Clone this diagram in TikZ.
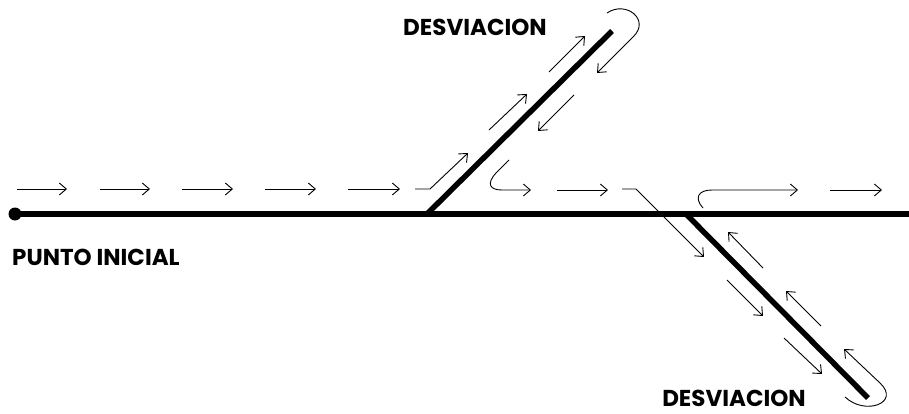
\documentclass[tikz,border=0pt]{standalone}
\usepackage{fontspec}
\setmainfont{Poppins}
\usetikzlibrary{arrows.meta}
\begin{document}
\begin{tikzpicture}[x=1pt,y=-1pt,
  road/.style={line width=5.5pt},
  flow/.style={line width=0.9pt,-{Straight Barb[length=7pt,width=12pt]}},
  lbl/.style={font=\bfseries\fontsize{23}{25}\selectfont, inner sep=0pt}]
\useasboundingbox (0,0) rectangle (909,414);
% main road and branches
\coordinate (start) at (15,214);
\coordinate (roadend) at (909,214);
\coordinate (b1) at (427,214);
\coordinate (t1) at (612,31);
\coordinate (b2) at (686,214);
\coordinate (t2) at (868,398);
\draw[road] (start) -- (roadend);
\fill (start) circle (6.5);
\draw[road] (b1) -- (t1);
\draw[road] (b2) -- (t2);
% top row arrows
\foreach \xa/\xb in {17/67,100/150,182/233,265/316,348/400}
  \draw[flow] (\xa,189) -- (\xb,189);
% entry into upper branch
\draw[flow] (415,189) -- (430,189) -- (468,153);
\draw[flow] (489,130) -- (527,94);
\draw[flow] (549,72) -- (585,36);
% top hook
\draw[flow] (607,13) .. controls (626,0) and (651,20) .. (633,37) -- (597,73);
\draw[flow] (574,95) -- (538,131);
% hook back to main road
\draw[flow] (509,160) -- (496,173) .. controls (486,184) and (490,190) .. (502,190) -- (531,190);
\draw[flow] (557,190) -- (608,190);
% entry into lower branch
\draw[flow] (622,189) -- (636,189) -- (704,257);
\draw[flow] (727,280) -- (763,316);
\draw[flow] (784,338) -- (822,374);
% bottom hook
\draw[flow] (845,397) .. controls (865,416) and (901,403) .. (880,383) -- (844,349);
\draw[flow] (821,326) -- (786,291);
\draw[flow] (763,268) -- (728,232);
% hook back onto main road
\draw[flow] (703,208) .. controls (694,198) and (698,190) .. (712,190) -- (798,190);
\draw[flow] (830,190) -- (882,190);
% labels
\node[lbl] (d1) at (475,27) {DESVIACION};
\node[lbl] (d2) at (734,398) {DESVIACION};
\node[lbl, anchor=west] (pi) at (12,257) {PUNTO INICIAL};
\end{tikzpicture}
\end{document}
